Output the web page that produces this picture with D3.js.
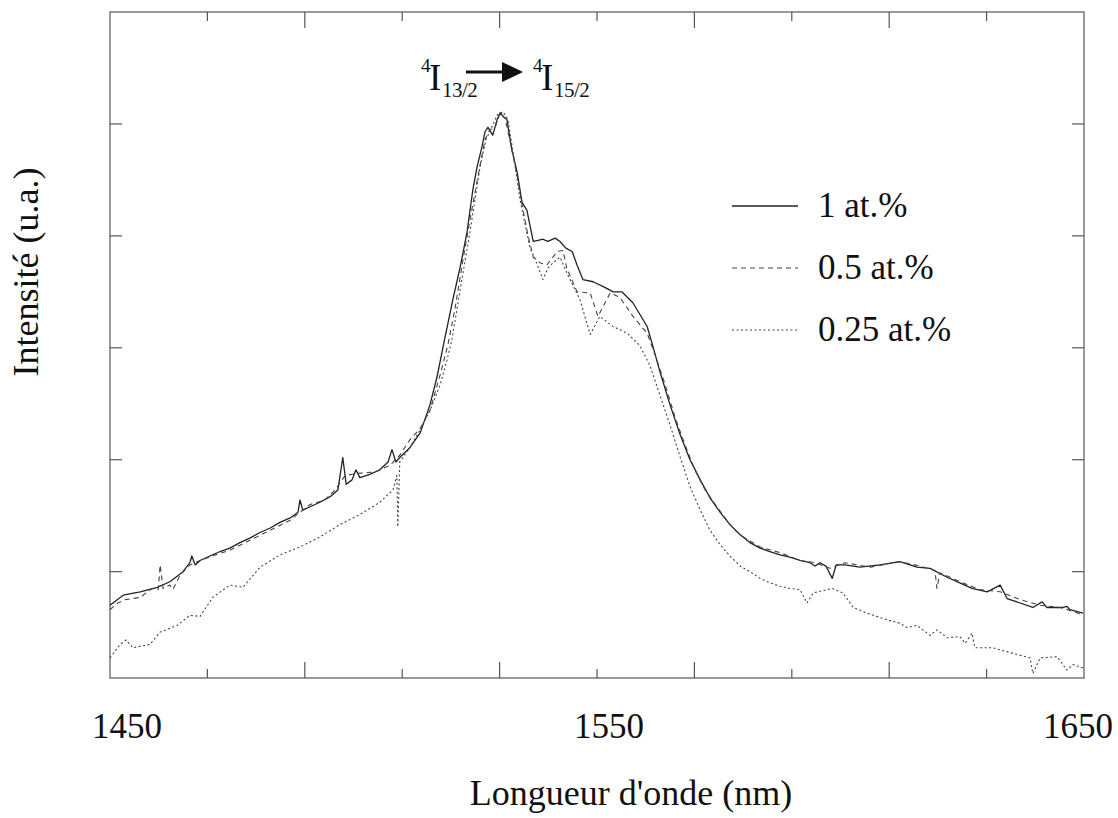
<!DOCTYPE html>
<html>
<head>
<meta charset="utf-8">
<script src="https://cdn.jsdelivr.net/npm/d3@7"></script>
<style>
  html, body { margin: 0; padding: 0; background: #fff; }
  svg { display: block; }
</style>
</head>
<body>
<svg id="chart" width="1118" height="818" font-family="'Liberation Serif', Tinos, 'Times New Roman', Times, 'Nimbus Roman', 'DejaVu Serif', serif"></svg>
<script>
// Emission spectra of Er3+ (4I13/2 -> 4I15/2), three concentrations.
// Wavelength in nm, intensity in arbitrary units.

const wl1 = [1450.0,1452.7,1456.2,1459.7,1462.3,1465.0,1466.4,1466.8,1467.5,1468.5,1470.5,1472.6,1474.6,1476.7,1478.7,1480.8,1482.9,1484.9,1487.0,1488.6,1489.0,1489.6,1491.1,1493.1,1495.2,1496.8,1497.8,1498.5,1499.7,1500.5,1501.3,1503.4,1505.4,1507.1,1507.9,1508.7,1509.5,1511.6,1513.7,1515.7,1517.1,1518.4,1520.4,1521.9,1523.3,1524.5,1525.4,1526.4,1527.0,1527.6,1528.6,1529.5,1530.1,1530.9,1531.5,1532.5,1533.6,1534.6,1535.6,1536.9,1537.9,1538.9,1539.9,1541.4,1542.4,1543.6,1544.9,1545.9,1547.1,1549.2,1551.6,1553.3,1555.1,1557.4,1560.3,1561.5,1562.9,1565.0,1567.1,1569.1,1571.2,1573.2,1575.3,1577.3,1579.4,1581.4,1583.5,1585.5,1587.6,1589.6,1591.7,1593.7,1594.8,1595.8,1597.0,1598.3,1599.1,1600.9,1604.0,1608.1,1612.2,1615.7,1618.4,1621.9,1624.5,1627.0,1630.1,1632.8,1634.2,1636.9,1639.5,1641.4,1642.4,1645.7,1646.5,1647.1,1649.8];
const int1 = [0.70,0.79,0.82,0.86,0.91,1.00,1.08,1.14,1.06,1.10,1.14,1.18,1.21,1.26,1.30,1.35,1.39,1.44,1.48,1.53,1.64,1.55,1.58,1.62,1.67,1.73,2.02,1.78,1.82,1.91,1.84,1.87,1.91,1.98,2.09,1.98,2.02,2.11,2.24,2.49,2.73,3.01,3.43,3.72,4.03,4.41,4.62,4.80,4.93,4.97,4.90,5.04,5.10,5.06,5.04,4.77,4.57,4.30,4.23,3.95,3.96,3.97,3.95,3.98,3.95,3.89,3.86,3.74,3.61,3.59,3.54,3.50,3.50,3.40,3.19,3.01,2.79,2.49,2.22,2.00,1.82,1.66,1.53,1.42,1.33,1.26,1.21,1.18,1.15,1.13,1.10,1.08,1.05,1.08,1.05,0.94,1.06,1.06,1.04,1.06,1.09,1.04,1.03,0.95,0.90,0.85,0.82,0.88,0.76,0.72,0.68,0.73,0.68,0.68,0.69,0.66,0.63];

const wl2 = [1450.0,1451.6,1453.1,1456.2,1458.6,1459.9,1460.3,1460.9,1462.3,1462.9,1464.4,1466.4,1468.5,1471.6,1474.6,1478.7,1482.9,1487.0,1489.0,1491.1,1494.1,1496.2,1498.3,1501.3,1504.4,1507.5,1509.5,1511.6,1513.7,1515.7,1517.8,1519.4,1520.8,1522.3,1523.9,1525.6,1527.0,1528.0,1529.1,1530.1,1531.1,1532.1,1533.6,1534.6,1535.8,1536.9,1538.3,1539.7,1540.8,1541.8,1543.0,1543.8,1545.9,1548.6,1550.2,1552.7,1554.7,1557.4,1560.3,1561.9,1564.0,1566.1,1568.1,1570.1,1572.2,1574.3,1576.3,1578.3,1580.4,1583.5,1587.6,1591.7,1594.8,1597.8,1600.9,1606.1,1612.2,1616.3,1619.4,1619.8,1620.4,1624.5,1628.6,1632.8,1636.9,1641.0,1645.1,1648.2,1649.8];
const int2 = [0.66,0.72,0.75,0.77,0.85,0.84,1.06,0.85,0.88,0.84,0.97,1.06,1.10,1.15,1.19,1.28,1.37,1.46,1.53,1.60,1.64,1.73,1.86,1.88,1.89,1.95,2.04,2.18,2.28,2.44,2.76,3.03,3.34,3.74,4.14,4.54,4.86,4.95,4.97,5.10,5.05,4.86,4.54,4.28,4.01,3.81,3.76,3.74,3.80,3.86,3.87,3.71,3.50,3.49,3.28,3.49,3.45,3.28,3.13,2.94,2.67,2.37,2.13,1.91,1.73,1.60,1.48,1.37,1.30,1.22,1.17,1.10,1.08,1.03,1.08,1.04,1.09,1.05,1.01,0.85,0.99,0.91,0.84,0.82,0.75,0.70,0.68,0.64,0.61];

const wl3 = [1450.0,1452.1,1453.3,1454.7,1458.2,1460.3,1463.8,1466.4,1468.5,1471.1,1474.6,1477.3,1480.8,1484.9,1489.0,1493.1,1497.2,1501.3,1505.4,1508.1,1508.9,1509.1,1509.5,1511.6,1513.7,1515.7,1517.8,1519.2,1520.2,1521.9,1523.9,1526.0,1527.2,1528.4,1529.5,1530.7,1531.7,1533.0,1534.2,1536.2,1537.3,1538.9,1539.9,1541.0,1542.4,1543.8,1546.5,1548.6,1550.6,1553.3,1556.2,1558.8,1560.9,1562.9,1565.0,1567.1,1569.1,1571.2,1573.2,1575.3,1577.3,1579.4,1581.4,1583.5,1585.5,1587.6,1589.6,1591.7,1593.1,1594.4,1598.3,1600.5,1602.6,1605.4,1609.5,1612.2,1613.7,1615.7,1618.4,1619.8,1621.9,1624.5,1625.6,1627.0,1627.6,1631.3,1635.4,1638.9,1639.5,1641.0,1644.5,1646.5,1647.7,1649.8];
const int3 = [0.23,0.35,0.39,0.32,0.35,0.46,0.52,0.61,0.60,0.77,0.88,0.86,1.04,1.15,1.22,1.31,1.42,1.51,1.62,1.73,1.86,1.40,1.98,2.11,2.27,2.44,2.67,2.89,3.07,3.52,4.03,4.62,4.86,4.97,5.08,5.11,5.04,4.68,4.32,3.90,3.79,3.61,3.71,3.76,3.81,3.67,3.43,3.12,3.28,3.19,3.13,3.02,2.84,2.58,2.31,2.02,1.76,1.55,1.37,1.24,1.14,1.05,1.00,0.94,0.90,0.87,0.85,0.84,0.72,0.81,0.85,0.81,0.68,0.63,0.57,0.54,0.50,0.52,0.43,0.48,0.41,0.42,0.36,0.45,0.32,0.32,0.27,0.23,0.09,0.23,0.24,0.12,0.17,0.14];

const seriesNames = ["1 at.%", "0.5 at.%", "0.25 at.%"];
const xTickValues = d3.range(1470, 1650, 20);
const xLabelValues = [1450, 1550, 1650];
const yTickValues = [1, 2, 3, 4, 5];

const svg = d3.select("#chart");
const plot = { left: 110, right: 1084, top: 12, bottom: 678 };

const x = d3.scaleLinear().domain([1450, 1650]).range([plot.left, plot.right]);
const y = d3.scaleLinear().domain([0.05, 6]).range([plot.bottom, plot.top]);

const frameColor = "#555";
const ink = "#111";

// frame
svg.append("rect")
  .attr("x", plot.left).attr("y", plot.top)
  .attr("width", plot.right - plot.left).attr("height", plot.bottom - plot.top)
  .attr("fill", "none").attr("stroke", frameColor).attr("stroke-width", 1.2);

// inward ticks on all four sides
const tickLen = v => ((v - 1490) % 40 === 0 ? 16 : 9);
const ticks = svg.append("g").attr("stroke", frameColor).attr("stroke-width", 1.2);
xTickValues.forEach(v => {
  ticks.append("line").attr("x1", x(v)).attr("x2", x(v)).attr("y1", plot.bottom).attr("y2", plot.bottom - tickLen(v));
  ticks.append("line").attr("x1", x(v)).attr("x2", x(v)).attr("y1", plot.top).attr("y2", plot.top + tickLen(v));
});
yTickValues.forEach(v => {
  ticks.append("line").attr("x1", plot.left).attr("x2", plot.left + 12).attr("y1", y(v)).attr("y2", y(v));
  ticks.append("line").attr("x1", plot.right).attr("x2", plot.right - 12).attr("y1", y(v)).attr("y2", y(v));
});

// x tick labels
const labelShift = { 1450: 17, 1550: 12, 1650: -6 };
svg.append("g").selectAll("text").data(xLabelValues).join("text")
  .attr("x", d => x(d) + labelShift[d]).attr("y", 738)
  .attr("text-anchor", "middle").attr("font-size", 35).attr("fill", ink)
  .text(d => d);

// axis titles
svg.append("text").attr("x", 631).attr("y", 805).attr("text-anchor", "middle")
  .attr("font-size", 36).attr("fill", ink).text("Longueur d'onde (nm)");
svg.append("text").attr("transform", "translate(38,272) rotate(-90)")
  .attr("text-anchor", "middle").attr("font-size", 36).attr("fill", ink).text("Intensité (u.a.)");

// spectra
const styles = [
  { color: "#222", width: 1.3, dash: null },
  { color: "#444", width: 1.1, dash: "5,4" },
  { color: "#444", width: 1.1, dash: "2,2.5" },
];
const line = d3.line().x(d => x(d[0])).y(d => y(d[1]));
const data = [d3.zip(wl1, int1), d3.zip(wl2, int2), d3.zip(wl3, int3)];
data.forEach((pts, i) => {
  svg.append("path").datum(pts)
    .attr("d", line)
    .attr("fill", "none")
    .attr("stroke", styles[i].color)
    .attr("stroke-width", styles[i].width)
    .attr("stroke-dasharray", styles[i].dash)
    .attr("stroke-linejoin", "round");
});

// legend
const legendY = [206, 268, 330];
const lg = svg.append("g");
seriesNames.forEach((name, i) => {
  lg.append("line").attr("x1", 732).attr("x2", 798).attr("y1", legendY[i]).attr("y2", legendY[i])
    .attr("stroke", styles[i].color).attr("stroke-width", styles[i].width)
    .attr("stroke-dasharray", styles[i].dash);
  lg.append("text").attr("x", 818).attr("y", legendY[i] + 11).attr("font-size", 35).attr("fill", ink).text(name);
});

// transition label: 4I13/2 -> 4I15/2
const t = svg.append("g").attr("fill", ink);
function level(x0, sub) {
  t.append("text").attr("x", x0).attr("y", 72).attr("font-size", 19).text("4");
  t.append("text").attr("x", x0 + 8).attr("y", 90).attr("font-size", 37).text("I");
  t.append("text").attr("x", x0 + 21).attr("y", 97).attr("font-size", 21).attr("letter-spacing", -0.5).text(sub);
}
level(421, "13/2");
level(533, "15/2");
t.append("line").attr("x1", 466).attr("x2", 504).attr("y1", 72).attr("y2", 72)
  .attr("stroke", ink).attr("stroke-width", 3);
t.append("path").attr("d", "M502,62 L523,72 L502,82 Z").attr("fill", ink);
</script>
</body>
</html>
